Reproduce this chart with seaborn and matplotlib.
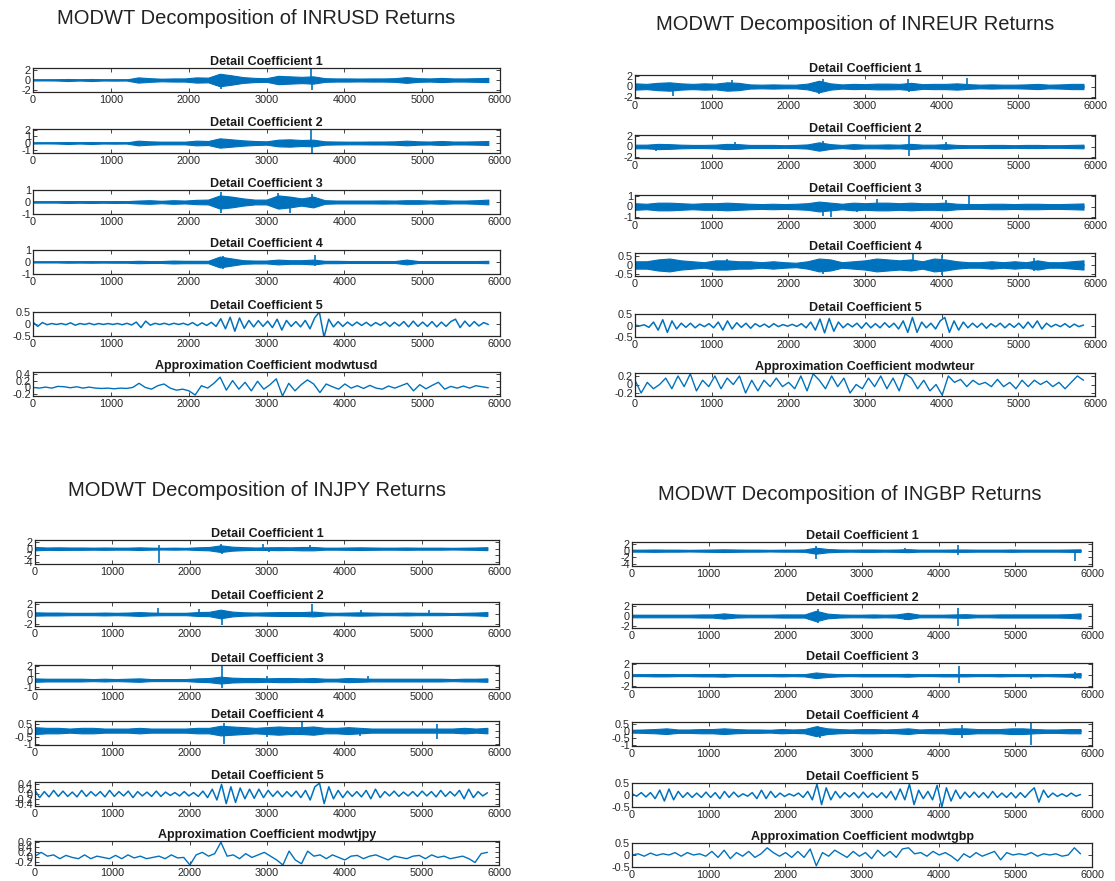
import numpy as np
import matplotlib
matplotlib.use("Agg")
import matplotlib.pyplot as plt
import matplotlib.ticker as mticker
import seaborn as sns

# ---------------------------------------------------------------------------
# Wavelet coefficient data (MODWT, 5 levels) for four INR currency pairs.
# Detail levels 1-4: band half-width sampled along the series, plus isolated
# spikes (position, value). Detail 5 and approximation: successive turning
# points of the coefficient curve.
# ---------------------------------------------------------------------------
series_length = 5850
x_ticks = [0, 1000, 2000, 3000, 4000, 5000, 6000]

# ---------------- INRUSD ----------------
usd_d1_env = [0.1, 0.08, 0.1, 0.2, 0.1, 0.2, 0.1, 0.12, 0.1, 0.5, 0.35, 0.25, 0.3, 0.3, 0.5, 0.45,
              1.2, 0.9, 0.55, 0.4, 0.35, 0.8, 0.7, 0.6, 0.7, 0.35, 0.3, 0.3, 0.28, 0.3, 0.3, 0.35,
              0.55, 0.35, 0.3, 0.4, 0.3, 0.3, 0.35, 0.4]
usd_d1_spike_x = [2410, 2440, 2420, 3570, 3580, 3200]
usd_d1_spike_y = [-1.8, -1.2, 1.0, 2.2, -2.0, -0.9]

usd_d2_env = [0.08, 0.06, 0.08, 0.15, 0.08, 0.15, 0.08, 0.1, 0.08, 0.35, 0.25, 0.2, 0.2, 0.2, 0.35, 0.3,
              0.7, 0.55, 0.4, 0.3, 0.25, 0.5, 0.55, 0.45, 0.5, 0.25, 0.22, 0.2, 0.2, 0.22, 0.22, 0.25,
              0.35, 0.25, 0.22, 0.3, 0.22, 0.22, 0.25, 0.3]
usd_d2_spike_x = [3570, 3580, 2420]
usd_d2_spike_y = [2.0, -1.5, -0.8]

usd_d3_env = [0.05, 0.05, 0.05, 0.08, 0.06, 0.08, 0.06, 0.08, 0.07, 0.12, 0.15, 0.1, 0.15, 0.12, 0.18, 0.2,
              0.55, 0.45, 0.3, 0.2, 0.2, 0.55, 0.45, 0.3, 0.45, 0.15, 0.12, 0.12, 0.12, 0.12, 0.13, 0.12,
              0.15, 0.15, 0.12, 0.15, 0.12, 0.12, 0.15, 0.2]
usd_d3_spike_x = [2420, 2410, 3300, 3150, 3580]
usd_d3_spike_y = [-0.9, 0.8, -0.9, 0.75, 0.65]

usd_d4_env = [0.04, 0.04, 0.04, 0.06, 0.05, 0.06, 0.05, 0.06, 0.06, 0.1, 0.08, 0.08, 0.12, 0.1, 0.1, 0.1,
              0.45, 0.3, 0.15, 0.12, 0.12, 0.2, 0.15, 0.15, 0.2, 0.1, 0.1, 0.08, 0.08, 0.08, 0.08, 0.08,
              0.2, 0.08, 0.08, 0.08, 0.08, 0.08, 0.08, 0.1]
usd_d4_spike_x = [2440, 2440, 3620, 3620]
usd_d4_spike_y = [-0.55, 0.5, 0.6, -0.35]

usd_d5 = [0.08, -0.1, 0.06, -0.03, 0.02, -0.02, 0.02, -0.03, 0.05, -0.05, 0.02, -0.02, 0.03, -0.03,
          0.02, -0.02, 0.02, -0.02, 0.02, -0.03, 0.03, -0.04, 0.08, -0.15, 0.12, -0.05, 0.03, -0.02,
          0.03, -0.03, 0.03, -0.02, 0.03, -0.04, 0.06, -0.07, 0.05, -0.06, 0.07, -0.1, 0.22, -0.2,
          0.28, -0.3, 0.25, -0.18, 0.15, -0.12, 0.14, -0.1, 0.12, -0.15, 0.2, -0.25, 0.15, -0.1,
          0.1, -0.12, 0.15, -0.2, 0.25, 0.5, -0.55, 0.2, -0.12, 0.1, -0.1, 0.08, -0.07, 0.08, -0.06,
          0.07, -0.08, 0.06, -0.05, 0.08, -0.1, 0.07, -0.08, 0.1, -0.12, 0.12, -0.1, 0.08, -0.1, 0.1,
          -0.12, 0.08, -0.1, 0.1, 0.2, -0.15, 0.12, -0.1, 0.1, -0.08, 0.06, -0.02]

usd_approx = [0.0, -0.02, 0.01, -0.02, 0.03, 0.02, -0.01, 0.02, -0.02, 0.01, -0.02, -0.03, -0.02,
              -0.04, -0.02, -0.03, 0.0, 0.12, 0.0, -0.05, 0.05, 0.1, -0.02, -0.08, -0.05, -0.1, -0.22,
              0.05, -0.02, 0.12, 0.3, -0.08, 0.2, -0.05, 0.15, -0.1, 0.18, -0.05, 0.08, 0.25, -0.25,
              0.12, -0.1, 0.08, 0.22, 0.1, -0.15, 0.1, 0.02, -0.05, 0.1, -0.02, 0.05, -0.03, 0.06,
              -0.02, -0.05, 0.04, -0.02, 0.05, 0.12, -0.1, 0.08, -0.04, 0.06, 0.15, -0.05, 0.03,
              -0.02, 0.04, -0.02, 0.05, 0.02, -0.01]

# ---------------- INREUR ----------------
eur_d1_env = [0.6, 0.5, 0.7, 0.8, 0.6, 0.5, 0.6, 0.55, 0.8, 0.7, 0.4, 0.35, 0.4, 0.35, 0.35, 0.55,
              1.1, 0.6, 0.4, 0.5, 0.45, 0.55, 0.55, 0.5, 0.7, 0.45, 0.5, 0.5, 0.6, 0.45, 0.35, 0.4,
              0.35, 0.35, 0.4, 0.5, 0.35, 0.4, 0.5, 0.5]
eur_d1_spike_x = [490, 1260, 2400, 2450, 3560, 4330, 3570]
eur_d1_spike_y = [-1.8, 1.2, -1.5, 1.4, 1.5, 1.7, -1.0]

eur_d2_env = [0.35, 0.35, 0.5, 0.45, 0.35, 0.3, 0.3, 0.35, 0.5, 0.45, 0.3, 0.3, 0.3, 0.25, 0.3, 0.4,
              0.8, 0.45, 0.3, 0.45, 0.35, 0.35, 0.4, 0.35, 0.5, 0.35, 0.35, 0.45, 0.3, 0.25, 0.25, 0.3,
              0.3, 0.25, 0.3, 0.3, 0.25, 0.25, 0.3, 0.35]
eur_d2_spike_x = [3570, 3575, 280, 2450, 4050, 1300]
eur_d2_spike_y = [2.0, -1.8, -0.9, 1.1, 0.9, 0.8]

eur_d3_env = [0.3, 0.25, 0.35, 0.35, 0.3, 0.25, 0.3, 0.3, 0.35, 0.3, 0.25, 0.22, 0.25, 0.22, 0.25, 0.3,
              0.45, 0.35, 0.25, 0.35, 0.3, 0.35, 0.35, 0.3, 0.35, 0.3, 0.3, 0.35, 0.25, 0.22, 0.22, 0.25,
              0.25, 0.22, 0.25, 0.25, 0.22, 0.22, 0.25, 0.28]
eur_d3_spike_x = [2450, 2550, 3150, 4050, 4350, 2900]
eur_d3_spike_y = [-0.9, -1.0, 0.7, 0.6, 1.0, -0.5]

eur_d4_env = [0.2, 0.2, 0.3, 0.35, 0.25, 0.2, 0.15, 0.25, 0.25, 0.2, 0.2, 0.15, 0.2, 0.15, 0.12, 0.2,
              0.35, 0.3, 0.15, 0.2, 0.25, 0.35, 0.3, 0.25, 0.3, 0.2, 0.35, 0.3, 0.2, 0.15, 0.15, 0.2,
              0.15, 0.2, 0.15, 0.25, 0.15, 0.15, 0.2, 0.25]
eur_d4_spike_x = [3620, 4000, 4000, 2450, 5200, 5200, 1200]
eur_d4_spike_y = [0.6, 0.55, -0.55, -0.5, 0.4, -0.35, 0.35]

eur_d5 = [0.02, -0.02, 0.03, -0.08, 0.15, -0.2, 0.25, -0.3, 0.2, -0.15, 0.1, -0.08, 0.1, -0.1, 0.06,
          -0.05, 0.08, -0.1, 0.15, -0.2, 0.2, -0.15, 0.12, -0.08, 0.1, -0.12, 0.08, -0.05, 0.06, -0.08,
          0.08, -0.05, 0.04, -0.03, 0.05, -0.04, 0.08, -0.1, 0.15, -0.2, 0.28, -0.32, 0.3, -0.25, 0.15,
          -0.1, 0.08, -0.06, 0.1, -0.12, 0.12, -0.1, 0.08, -0.1, 0.12, -0.08, 0.1, -0.15, 0.2, -0.3,
          0.35, -0.3, 0.15, -0.1, 0.1, -0.15, 0.2, 0.35, -0.3, 0.2, -0.2, 0.15, -0.1, 0.1, -0.08, 0.1,
          -0.12, 0.08, -0.06, 0.1, -0.1, 0.08, -0.08, 0.1, -0.12, 0.15, -0.1, 0.2, -0.15, 0.1, -0.06,
          0.05, -0.05, 0.08, -0.08, 0.06, -0.05, 0.02]

eur_approx = [0.1, -0.2, 0.05, -0.1, 0.0, 0.15, -0.1, 0.2, -0.05, 0.25, -0.15, 0.1, -0.05, 0.2, -0.1,
              0.15, 0.0, 0.2, -0.2, 0.1, -0.15, 0.1, -0.05, 0.15, -0.05, 0.05, -0.1, 0.2, -0.15, 0.25,
              0.1, -0.1, 0.2, -0.05, 0.15, -0.2, 0.0, -0.1, 0.15, -0.05, 0.2, -0.1, 0.15, -0.15, 0.25,
              0.15, -0.1, 0.1, -0.15, 0.0, -0.25, 0.2, 0.05, 0.12, -0.05, 0.1, 0.0, 0.05, -0.05, 0.12,
              -0.05, 0.05, -0.1, 0.1, -0.05, 0.1, 0.0, 0.08, -0.05, 0.05, -0.1, 0.05, 0.2, 0.1]

# ---------------- INJPY ----------------
jpy_d1_env = [0.5, 0.35, 0.4, 0.35, 0.35, 0.3, 0.35, 0.3, 0.3, 0.4, 0.3, 0.25, 0.3, 0.25, 0.4, 0.5,
              1.0, 0.6, 0.45, 0.35, 0.4, 0.45, 0.4, 0.5, 0.5, 0.3, 0.3, 0.35, 0.4, 0.35, 0.3, 0.3,
              0.35, 0.3, 0.3, 0.3, 0.25, 0.3, 0.35, 0.45]
jpy_d1_spike_x = [1600, 1600, 2420, 2400, 2950, 3020, 3550]
jpy_d1_spike_y = [-4.3, 1.2, -1.6, 1.4, 1.3, -1.0, 1.0]

jpy_d2_env = [0.35, 0.3, 0.3, 0.25, 0.25, 0.25, 0.3, 0.25, 0.3, 0.4, 0.3, 0.25, 0.25, 0.25, 0.4, 0.45,
              0.9, 0.5, 0.35, 0.3, 0.35, 0.4, 0.4, 0.4, 0.5, 0.3, 0.25, 0.3, 0.35, 0.3, 0.25, 0.25,
              0.3, 0.25, 0.25, 0.25, 0.2, 0.25, 0.3, 0.4]
jpy_d2_spike_x = [1590, 2120, 2420, 3580, 4220, 5100]
jpy_d2_spike_y = [1.3, 1.1, -2.3, 2.0, 0.8, 0.8]

jpy_d3_env = [0.25, 0.2, 0.2, 0.2, 0.2, 0.15, 0.2, 0.15, 0.2, 0.25, 0.15, 0.15, 0.15, 0.15, 0.25, 0.3,
              0.5, 0.35, 0.3, 0.3, 0.25, 0.3, 0.3, 0.25, 0.3, 0.2, 0.2, 0.3, 0.25, 0.2, 0.2, 0.2,
              0.2, 0.2, 0.2, 0.2, 0.15, 0.2, 0.2, 0.25]
jpy_d3_spike_x = [2420, 2420, 3000, 4300]
jpy_d3_spike_y = [2.0, -1.2, 0.6, 0.6]

jpy_d4_env = [0.25, 0.2, 0.2, 0.15, 0.2, 0.2, 0.15, 0.15, 0.15, 0.2, 0.15, 0.15, 0.15, 0.15, 0.2, 0.2,
              0.35, 0.3, 0.25, 0.2, 0.25, 0.3, 0.25, 0.25, 0.3, 0.2, 0.2, 0.25, 0.2, 0.15, 0.15, 0.15,
              0.15, 0.15, 0.15, 0.15, 0.15, 0.2, 0.15, 0.2]
jpy_d4_spike_x = [2450, 2450, 3450, 3000, 5200, 5200, 4200]
jpy_d4_spike_y = [-1.0, 0.55, 0.6, -0.45, 0.5, -0.6, -0.4]

jpy_d5 = [0.15, -0.15, 0.1, -0.12, 0.15, -0.1, 0.12, -0.1, 0.08, -0.12, 0.15, -0.1, 0.1, -0.08, 0.1,
          -0.12, 0.15, -0.1, 0.1, -0.08, 0.12, -0.15, 0.1, -0.08, 0.08, -0.1, 0.12, -0.1, 0.08, -0.06,
          0.06, -0.08, 0.1, -0.08, 0.06, -0.1, 0.12, -0.15, 0.2, -0.25, 0.4, -0.4, 0.3, -0.35, 0.25,
          -0.2, 0.2, -0.18, 0.2, -0.15, 0.15, -0.1, 0.12, -0.12, 0.1, -0.1, 0.12, -0.15, 0.15, -0.25,
          0.3, 0.45, -0.4, 0.3, -0.2, 0.15, -0.15, 0.12, -0.1, 0.1, -0.12, 0.15, -0.2, 0.2, -0.15, 0.1,
          -0.08, 0.12, -0.1, 0.08, -0.08, 0.1, -0.1, 0.12, -0.08, 0.1, -0.12, 0.15, -0.1, 0.1, -0.08,
          0.15, -0.2, 0.2, -0.15, 0.1, -0.08, 0.05]

jpy_approx = [0.05, 0.2, 0.05, 0.1, -0.05, 0.08, 0.0, -0.05, 0.1, -0.05, 0.05, 0.0, -0.05, 0.08, -0.05,
              0.1, -0.02, 0.05, -0.05, 0.0, 0.05, -0.05, 0.1, -0.02, 0.0, -0.3, 0.1, 0.2, 0.05, 0.15,
              0.6, 0.05, 0.1, -0.05, 0.15, 0.0, 0.1, 0.2, 0.05, -0.1, -0.3, 0.25, -0.1, -0.25, 0.25,
              0.05, 0.1, -0.05, 0.1, 0.0, -0.1, 0.05, 0.08, -0.05, 0.05, 0.1, 0.0, -0.1, 0.05, 0.0,
              -0.05, 0.05, 0.08, -0.05, 0.1, 0.0, 0.05, -0.05, 0.0, 0.05, -0.05, -0.2, 0.15, 0.2]

# ---------------- INGBP ----------------
gbp_d1_env = [0.3, 0.3, 0.35, 0.3, 0.3, 0.25, 0.3, 0.35, 0.4, 0.35, 0.3, 0.3, 0.25, 0.3, 0.3, 0.35,
              0.9, 0.5, 0.35, 0.3, 0.35, 0.35, 0.3, 0.35, 0.45, 0.3, 0.3, 0.3, 0.35, 0.35, 0.3, 0.3,
              0.3, 0.35, 0.3, 0.3, 0.3, 0.3, 0.35, 0.4]
gbp_d1_spike_x = [2400, 2400, 4250, 4250, 5780, 3560]
gbp_d1_spike_y = [-2.5, 1.3, 1.7, -1.2, -3.0, 0.8]

gbp_d2_env = [0.25, 0.25, 0.25, 0.25, 0.25, 0.25, 0.3, 0.3, 0.5, 0.3, 0.25, 0.25, 0.25, 0.3, 0.3, 0.3,
              1.0, 0.45, 0.3, 0.25, 0.25, 0.3, 0.25, 0.3, 0.6, 0.25, 0.25, 0.25, 0.3, 0.35, 0.25, 0.25,
              0.3, 0.3, 0.3, 0.3, 0.3, 0.3, 0.35, 0.5]
gbp_d2_spike_x = [2420, 2420, 4250, 4250, 3560]
gbp_d2_spike_y = [-1.3, 1.3, -2.0, 1.5, -0.8]

gbp_d3_env = [0.15, 0.15, 0.2, 0.2, 0.15, 0.15, 0.2, 0.2, 0.25, 0.15, 0.15, 0.15, 0.15, 0.2, 0.15, 0.2,
              0.5, 0.3, 0.2, 0.15, 0.2, 0.2, 0.2, 0.2, 0.25, 0.15, 0.15, 0.2, 0.2, 0.2, 0.15, 0.15,
              0.2, 0.15, 0.15, 0.2, 0.15, 0.2, 0.25, 0.4]
gbp_d3_spike_x = [4270, 4270, 5200, 5780, 5780]
gbp_d3_spike_y = [1.6, -1.3, -0.6, 0.6, -0.7]

gbp_d4_env = [0.1, 0.12, 0.15, 0.2, 0.12, 0.12, 0.15, 0.15, 0.2, 0.15, 0.12, 0.12, 0.1, 0.15, 0.12, 0.15,
              0.35, 0.2, 0.15, 0.12, 0.15, 0.15, 0.12, 0.15, 0.2, 0.12, 0.15, 0.15, 0.2, 0.2, 0.15, 0.15,
              0.15, 0.2, 0.2, 0.15, 0.12, 0.12, 0.15, 0.15]
gbp_d4_spike_x = [5210, 5210, 4300, 4300, 2450, 2420]
gbp_d4_spike_y = [-1.0, 0.6, 0.45, -0.45, -0.45, 0.35]

gbp_d5 = [0.05, -0.05, 0.1, -0.08, 0.1, -0.15, 0.2, -0.25, 0.25, -0.2, 0.15, -0.1, 0.1, -0.1, 0.08,
          -0.1, 0.12, -0.1, 0.1, -0.15, 0.15, -0.1, 0.12, -0.08, 0.05, -0.05, 0.1, -0.15, 0.2, -0.15,
          0.15, -0.1, 0.08, -0.06, 0.05, -0.04, 0.08, -0.1, 0.15, -0.2, 0.45, -0.4, 0.3, -0.2, 0.15,
          -0.12, 0.1, -0.08, 0.1, -0.12, 0.12, -0.1, 0.08, -0.1, 0.1, -0.12, 0.15, -0.2, 0.25, -0.2,
          0.45, -0.4, 0.2, -0.15, 0.15, -0.2, 0.4, -0.5, 0.3, -0.25, 0.2, -0.15, 0.12, -0.1, 0.12,
          -0.1, 0.1, -0.12, 0.15, -0.1, 0.08, -0.1, 0.1, -0.12, 0.1, -0.1, 0.12, 0.3, -0.3, 0.2, -0.1,
          0.08, -0.06, 0.05, -0.06, 0.08, -0.05, 0.02]

gbp_approx = [0.0, 0.05, -0.05, 0.08, -0.02, 0.05, 0.0, 0.1, -0.05, 0.1, 0.0, 0.05, -0.05, 0.15, -0.1,
              0.2, -0.15, 0.1, -0.05, 0.15, -0.1, 0.05, 0.3, 0.1, -0.05, 0.1, -0.1, 0.15, -0.1, 0.25,
              -0.45, 0.1, -0.05, 0.2, 0.05, -0.1, 0.15, -0.05, 0.1, -0.15, 0.2, -0.05, 0.15, -0.1, 0.25,
              0.3, 0.05, 0.1, -0.05, 0.15, 0.0, 0.1, -0.05, -0.25, 0.05, -0.1, 0.1, -0.05, 0.05, 0.15,
              -0.2, 0.1, 0.0, 0.05, 0.0, 0.1, -0.05, 0.05, 0.0, 0.05, -0.05, 0.0, 0.3, 0.05]

pair_names = ["INRUSD", "INREUR", "INJPY", "INGBP"]
approx_names = ["modwtusd", "modwteur", "modwtjpy", "modwtgbp"]

details = {
    "INRUSD": [(usd_d1_env, usd_d1_spike_x, usd_d1_spike_y), (usd_d2_env, usd_d2_spike_x, usd_d2_spike_y),
               (usd_d3_env, usd_d3_spike_x, usd_d3_spike_y), (usd_d4_env, usd_d4_spike_x, usd_d4_spike_y)],
    "INREUR": [(eur_d1_env, eur_d1_spike_x, eur_d1_spike_y), (eur_d2_env, eur_d2_spike_x, eur_d2_spike_y),
               (eur_d3_env, eur_d3_spike_x, eur_d3_spike_y), (eur_d4_env, eur_d4_spike_x, eur_d4_spike_y)],
    "INJPY": [(jpy_d1_env, jpy_d1_spike_x, jpy_d1_spike_y), (jpy_d2_env, jpy_d2_spike_x, jpy_d2_spike_y),
              (jpy_d3_env, jpy_d3_spike_x, jpy_d3_spike_y), (jpy_d4_env, jpy_d4_spike_x, jpy_d4_spike_y)],
    "INGBP": [(gbp_d1_env, gbp_d1_spike_x, gbp_d1_spike_y), (gbp_d2_env, gbp_d2_spike_x, gbp_d2_spike_y),
              (gbp_d3_env, gbp_d3_spike_x, gbp_d3_spike_y), (gbp_d4_env, gbp_d4_spike_x, gbp_d4_spike_y)],
}
level5 = {"INRUSD": usd_d5, "INREUR": eur_d5, "INJPY": jpy_d5, "INGBP": gbp_d5}
approximations = {"INRUSD": usd_approx, "INREUR": eur_approx, "INJPY": jpy_approx, "INGBP": gbp_approx}

# ---------------------------------------------------------------------------
# Layout (pixels) and axis limits
# ---------------------------------------------------------------------------
W, H = 1115, 881
panel_layout = {
    "INRUSD": dict(left=33, right=500, tops=[68, 129, 190, 250, 312, 372], h=24, title_xy=(256, 18)),
    "INREUR": dict(left=635, right=1095, tops=[75, 135, 195, 253, 314, 373], h=23, title_xy=(855, 25)),
    "INJPY": dict(left=35, right=499, tops=[540, 602, 665, 721, 782, 841], h=24, title_xy=(257, 491)),
    "INGBP": dict(left=632, right=1092, tops=[542, 604, 663, 722, 783, 843], h=24, title_xy=(850, 495)),
}
y_axes = {
    "INRUSD": [((-2.3, 2.3), [-2, 0, 2]), ((-1.5, 2.1), [-1, 0, 1, 2]), ((-1, 1), [-1, 0, 1]),
               ((-1, 1), [-1, 0, 1]), ((-0.5, 0.5), [-0.5, 0, 0.5]), ((-0.25, 0.45), [-0.2, 0, 0.2, 0.4])],
    "INREUR": [((-2.2, 2.2), [-2, 0, 2]), ((-2.2, 2.2), [-2, 0, 2]), ((-1.05, 1.05), [-1, 0, 1]),
               ((-0.6, 0.65), [-0.5, 0, 0.5]), ((-0.5, 0.5), [-0.5, 0, 0.5]), ((-0.27, 0.27), [-0.2, 0, 0.2])],
    "INJPY": [((-4.6, 2.6), [-4, -2, 0, 2]), ((-2.5, 2.5), [-2, 0, 2]), ((-1.3, 2.2), [-1, 0, 1, 2]),
              ((-1.05, 0.7), [-1, -0.5, 0, 0.5]), ((-0.5, 0.5), [-0.4, -0.2, 0, 0.2, 0.4]),
              ((-0.3, 0.65), [-0.2, 0, 0.2, 0.4, 0.6])],
    "INGBP": [((-4.6, 2.6), [-4, -2, 0, 2]), ((-2.3, 2.3), [-2, 0, 2]), ((-2.1, 2.2), [-2, 0, 2]),
              ((-1.05, 0.65), [-1, -0.5, 0, 0.5]), ((-0.5, 0.5), [-0.5, 0, 0.5]), ((-0.5, 0.5), [-0.5, 0, 0.5])],
}

LINE = "#0072BD"
EDGE = "#262626"

sns.set_theme(style="ticks")
plt.rcParams.update({
    "xtick.direction": "in", "ytick.direction": "in",
    "xtick.top": True, "ytick.right": True,
    "xtick.major.size": 3, "ytick.major.size": 3,
    "xtick.major.width": 0.6, "ytick.major.width": 0.6,
    "xtick.major.pad": 2.5, "ytick.major.pad": 1.5,
    "xtick.labelsize": 7.8, "ytick.labelsize": 7.8,
    "xtick.color": EDGE, "ytick.color": EDGE,
    "axes.edgecolor": EDGE, "axes.linewidth": 0.9,
    "axes.unicode_minus": False,
})
plt.rcParams["font.family"] = ["Liberation Sans", "DejaVu Sans"]

fig = plt.figure(figsize=(W / 100, H / 100), dpi=100)
fig.patch.set_facecolor("white")

fmt = mticker.FuncFormatter(lambda v, _: f"{v:g}")


def make_axes(lay, i):
    top = lay["tops"][i]
    return fig.add_axes([lay["left"] / W, 1 - (top + lay["h"]) / H,
                         (lay["right"] - lay["left"]) / W, lay["h"] / H])


def style_axes(ax, ylim, yticks, title):
    ax.set_xlim(0, 6000)
    ax.set_xticks(x_ticks)
    ax.set_ylim(*ylim)
    ax.set_yticks(yticks)
    ax.yaxis.set_major_formatter(fmt)
    ax.set_xlabel("")
    ax.set_ylabel("")
    ax.set_title(title, fontsize=9, fontweight="bold", pad=2, color="#1a1a1a")
    for s in ax.spines.values():
        s.set_visible(True)


for name, approx_label in zip(pair_names, approx_names):
    lay = panel_layout[name]
    tx, ty = lay["title_xy"]
    fig.text(tx / W, 1 - ty / H, f"MODWT Decomposition of {name} Returns",
             ha="center", va="center", fontsize=14.5, color="#222222")

    # Detail coefficients 1-4: dense oscillation band with isolated spikes
    for lvl, (env, sx, sy) in enumerate(details[name]):
        ax = make_axes(lay, lvl)
        env = np.asarray(env)
        xs = np.linspace(0, series_length, len(env))
        ax.fill_between(xs, -env, env, color=LINE, lw=0.8, edgecolor=LINE)
        sns.lineplot(x=xs, y=np.zeros_like(xs), ax=ax, color=LINE, lw=1.2)
        ax.vlines(sx, 0, sy, color=LINE, lw=1.2)
        ylim, yt = y_axes[name][lvl]
        style_axes(ax, ylim, yt, f"Detail Coefficient {lvl + 1}")

    # Detail coefficient 5
    ax = make_axes(lay, 4)
    d5 = np.asarray(level5[name])
    sns.lineplot(x=np.linspace(0, series_length, len(d5)), y=d5, ax=ax, color=LINE, lw=1.1)
    ylim, yt = y_axes[name][4]
    style_axes(ax, ylim, yt, "Detail Coefficient 5")

    # Approximation coefficient
    ax = make_axes(lay, 5)
    a = np.asarray(approximations[name])
    sns.lineplot(x=np.linspace(0, series_length, len(a)), y=a, ax=ax, color=LINE, lw=1.0)
    ylim, yt = y_axes[name][5]
    style_axes(ax, ylim, yt, f"Approximation Coefficient {approx_label}")

fig.savefig("out.png", dpi=100, facecolor="white")
